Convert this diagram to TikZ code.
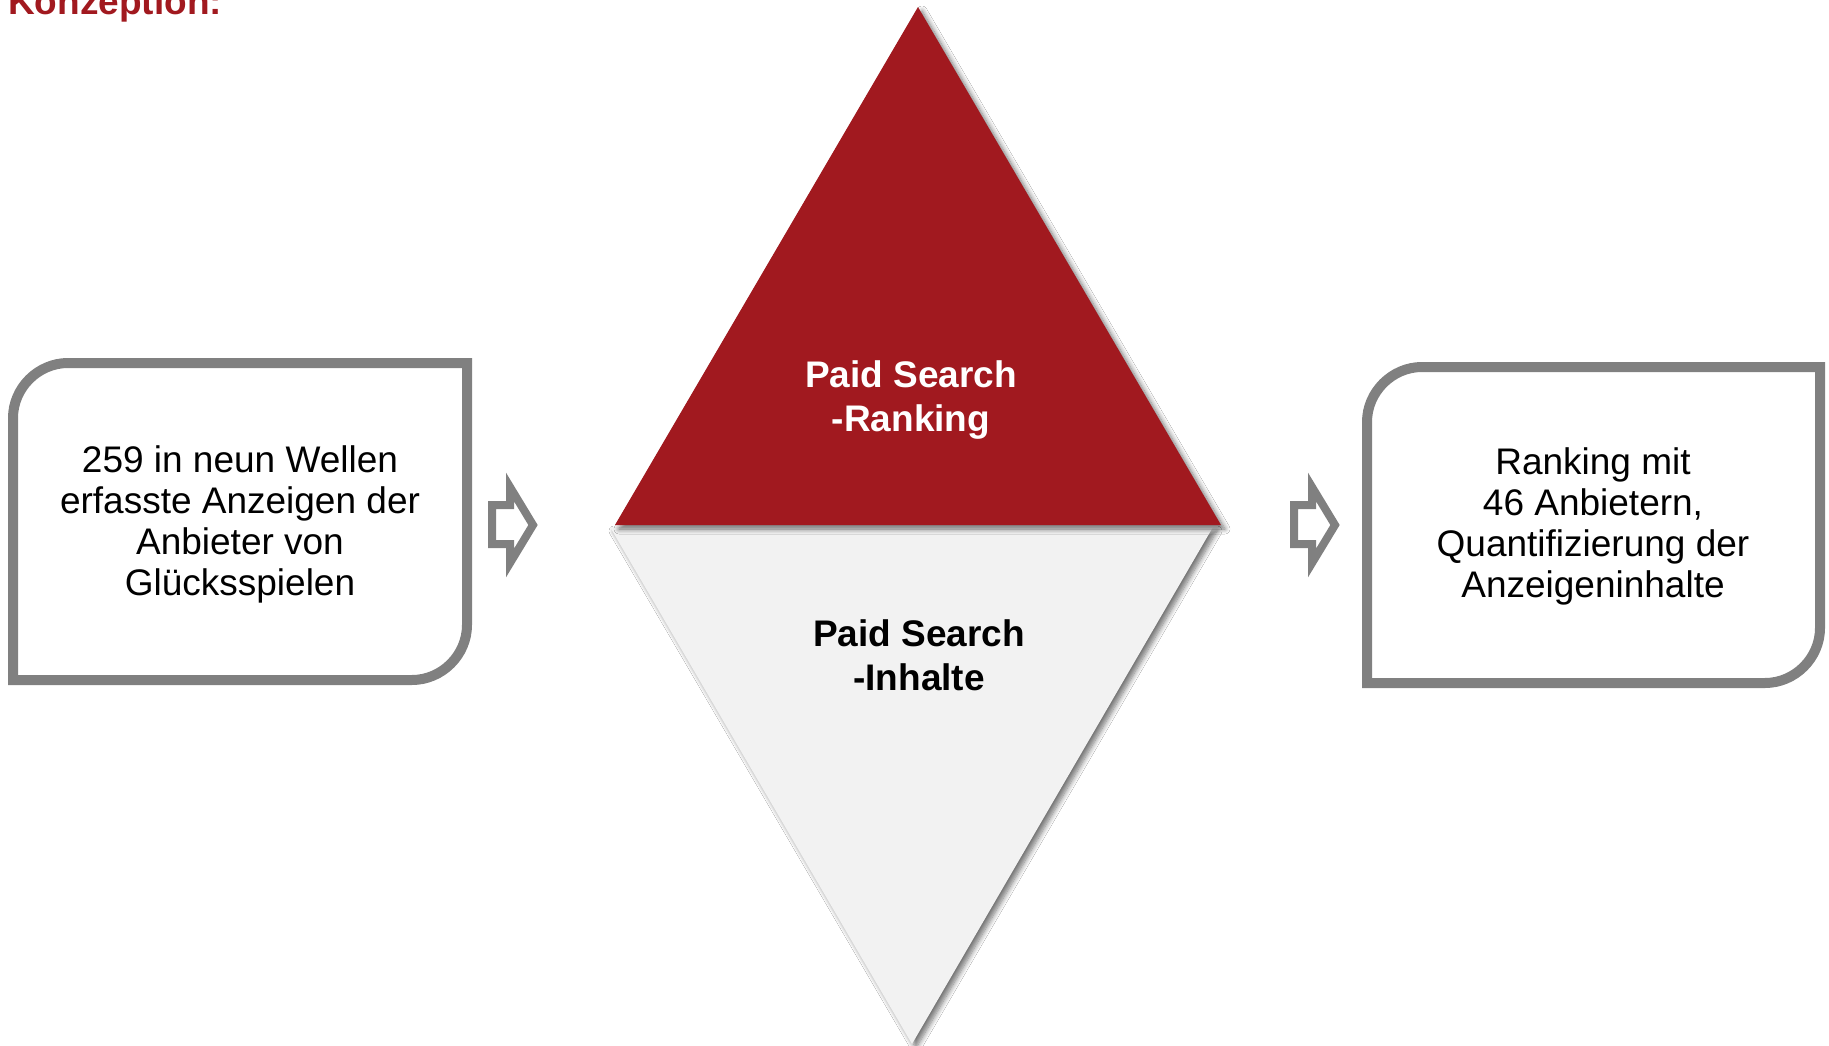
\documentclass[tikz,border=0pt]{standalone}
\usepackage{fontspec}
\setmainfont{Liberation Sans}
\usetikzlibrary{shadows.blur}
\definecolor{myred}{HTML}{A1191F}
\definecolor{mygray}{HTML}{808080}
\definecolor{lightfill}{HTML}{F2F2F2}
\begin{document}
\begin{tikzpicture}[x=1pt,y=-1pt,
  boxline/.style={draw=mygray,line width=10pt,line join=miter},
  arrowline/.style={draw=mygray,line width=8pt,line join=miter,fill=white},
  boxtext/.style={align=center,font=\fontsize{37}{41}\selectfont,inner sep=0pt},
  tritext/.style={align=center,font=\fontsize{37}{44}\selectfont\bfseries,inner sep=0pt},
  myshadow/.style={blur shadow={shadow xshift=4pt,shadow yshift=-4pt,shadow blur steps=8,shadow blur radius=5pt,shadow opacity=55}}]
\useasboundingbox[fill=white] (0,0) rectangle (1829,1046);

% title
\node[anchor=base west,inner sep=0pt,text=myred,font=\fontsize{37}{40}\selectfont\bfseries] (title) at (8,15) {Konzeption:};

% lower (grey) triangle
\fill[lightfill,myshadow] (610,527) -- (1213,527) -- (912,1044) -- cycle;
% upper (red) triangle
\fill[myred,myshadow] (918,7) -- (1221,525) -- (615,525) -- cycle;

\node[tritext,text=white] (rank) at (911,400) {Paid Search\\-Ranking};
\node[tritext,text=black] (inh) at (919,655) {Paid Search\\-Inhalte};

% left box
\draw[boxline] (13,418) .. controls (13,388) and (38,363) .. (68,363) -- (467,363) -- (467,625)
  .. controls (467,655) and (442,680) .. (412,680) -- (13,680) -- cycle;
\node[boxtext] (src) at (240,524) {259 in neun Wellen\\erfasste Anzeigen der\\Anbieter von\\Glücksspielen};

% right box
\draw[boxline] (1367,422) .. controls (1367,392) and (1392,367) .. (1422,367) -- (1820,367) -- (1820,628)
  .. controls (1820,658) and (1795,683) .. (1765,683) -- (1367,683) -- cycle;
\node[boxtext] (res) at (1593,526) {Ranking mit\\46 Anbietern,\\Quantifizierung der\\Anzeigeninhalte};

% block arrows
\draw[arrowline] (492,505) -- (510,505) -- (510,487) -- (533,525) -- (510,563) -- (510,544) -- (492,544) -- cycle;
\draw[arrowline] (1294,505) -- (1312,505) -- (1312,487) -- (1335,525) -- (1312,563) -- (1312,544) -- (1294,544) -- cycle;
\end{tikzpicture}
\end{document}
